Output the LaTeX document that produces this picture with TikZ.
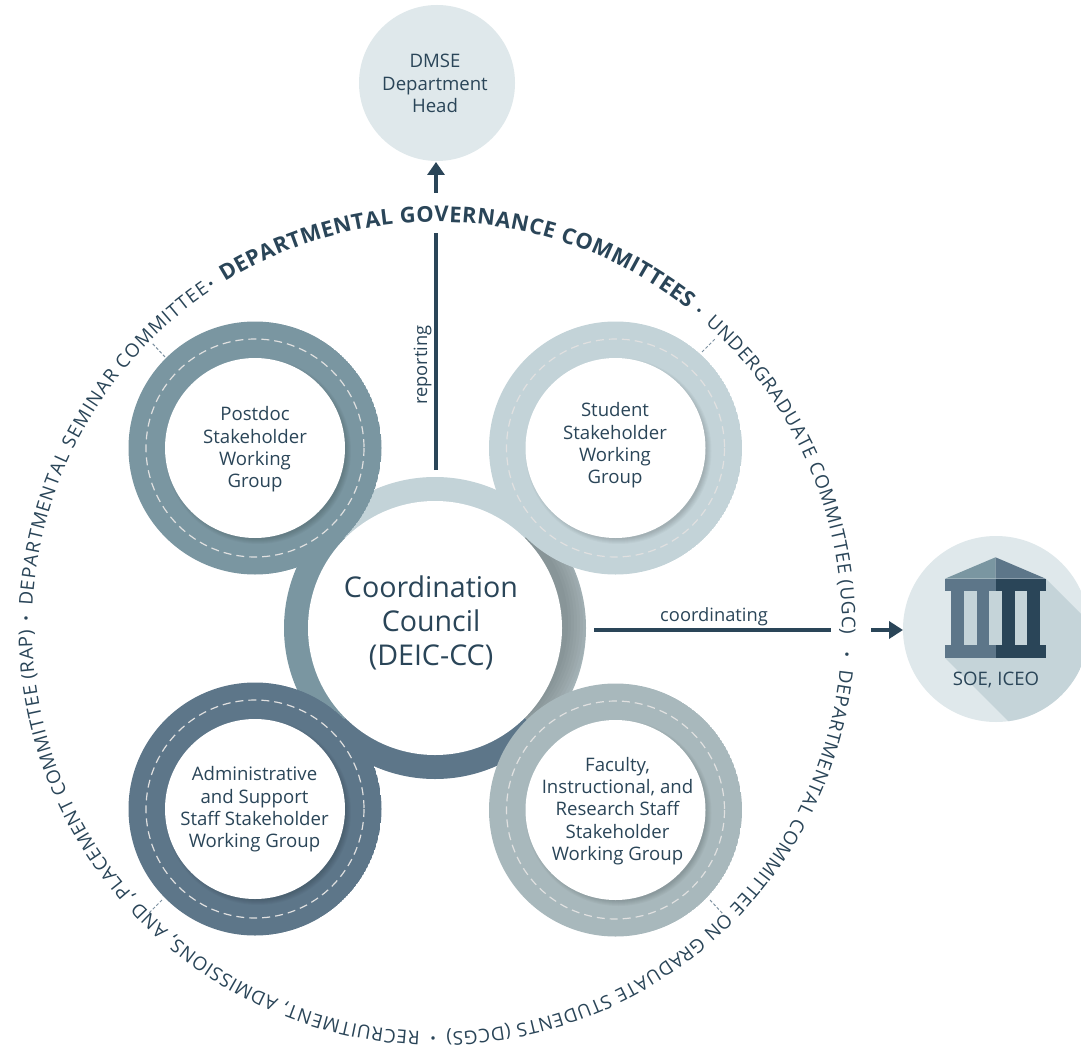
\documentclass[tikz,border=0pt]{standalone}
\usepackage{fontspec}
\setmainfont{Open Sans}
\usetikzlibrary{arrows.meta,decorations.text,calc}
\definecolor{cP}{HTML}{7A96A1}
\definecolor{cS}{HTML}{C3D3D8}
\definecolor{cF}{HTML}{A8B8BC}
\definecolor{cA}{HTML}{5D7689}
\definecolor{cLight}{HTML}{DFE8EB}
\definecolor{cShade}{HTML}{C5D4D9}
\definecolor{cInk}{HTML}{2A4558}
\tikzset{
  wgwhite/.style={circle,fill=white,inner sep=0pt,minimum size=180pt},
  wgtext/.style={text=cInk,align=center,font=\fontsize{18.6}{22.4}\selectfont,inner sep=0pt},
  bigtext/.style={text=cInk,align=center,font=\fontsize{28.6}{34}\selectfont,inner sep=0pt},
  lbl/.style={text=cInk,font=\fontsize{18.3}{20}\selectfont,inner sep=0pt},
  conn/.style={draw=cInk,line width=4.4pt},
  tick/.style={draw=cA!80,line width=1pt,dash pattern=on 3pt off 2pt},
  ringdash/.style={draw=white!88!black,line width=1.2pt,dash pattern=on 8pt off 5pt},
  ringtext/.style={decorate,decoration={text along path,text align=fit to path,text={#1},
     text color=cInk}},
  rdot/.style={text=cInk,font=\fontsize{20}{20}\bfseries\selectfont,inner sep=0pt},
}
\newcommand{\wgring}[4]{% name, x, y, colour
  \begin{scope}
    \clip (#2,#3) circle[radius=126.5];
    \fill[#4] (#2,#3) circle[radius=126.5];
    \foreach \r in {88,89,90,91,92,93}{
      \fill[black,opacity=.028] ($(#2,#3)+(3,3)$) circle[radius=\r];
    }
  \end{scope}
  \draw[ringdash] (#2,#3) circle[radius=109];
  \node[wgwhite] (#1) at (#2,#3) {};
}
\begin{document}
\begin{tikzpicture}[x=1pt,y=-1pt]
\useasboundingbox (0,0) rectangle (1081,1059);
\fill[white] (0,0) rectangle (1081,1059);

% top circle
\node[circle,fill=cLight,inner sep=0pt,minimum size=156pt] (dmse) at (437,83) {};
\node[wgtext] (dmsetext) at (435,83.5) {DMSE\\Department\\Head};

% right circle with the building
\begin{scope}
  \clip (0,0) rectangle (1081,1059);
  \node[circle,fill=cLight,inner sep=0pt,minimum size=186pt] (soe) at (996,629) {};
  \begin{scope}
    \clip (996,629) circle[radius=93];
    \fill[cShade] (1045.7,578.7) -- (1245.7,778.7) -- (1065,778) -- (945,658) -- cycle;
  \end{scope}
  % building
  \fill[cP] (995.5,557.3) -- (945,578.7) -- (995.5,578.7) -- cycle;
  \fill[cA] (995.5,557.3) -- (1045.7,578.7) -- (995.5,578.7) -- cycle;
  \fill[cA] (945,578.7) rectangle (996,591);
  \fill[cInk] (996,578.7) rectangle (1045.7,591);
  \fill[cA] (945,645.3) rectangle (996,658);
  \fill[cInk] (996,645.3) rectangle (1045.7,658);
  \fill[cA] (950.7,591) rectangle (964,645.3);
  \fill[cA] (976.7,591) rectangle (989,645.3);
  \fill[cInk] (1001.7,591) rectangle (1015,645.3);
  \fill[cInk] (1027,591) rectangle (1040,645.3);
  \fill[cShade] (964,591) rectangle (976.7,645.3);
  \fill[cShade] (989,591) rectangle (1001.7,645.3);
  \fill[cShade] (1015,591) rectangle (1027,645.3);
  \node[wgtext] (soetext) at (996,680) {SOE, ICEO};
\end{scope}

% central ring: four coloured quarters
\begin{scope}
  \clip (435,628) circle[radius=151];
  \fill[cS] (435,628) -- (135,328) -- (735,328) -- cycle;
  \fill[cP] (435,628) -- (135,328) -- (135,928) -- cycle;
  \fill[cA] (435,628) -- (135,928) -- (735,928) -- cycle;
  \fill[cF] (435,628) -- (735,328) -- (735,928) -- cycle;
  \begin{scope}
    \clip (435,628) -- (735,328) -- (735,928) -- cycle;
    \foreach \r in {128,131,134,137,140,143,146,149}{
      \fill[black,opacity=.022] (440,623) circle[radius=\r];
    }
  \end{scope}
\end{scope}

% working-group rings
\wgring{postdoc}{255}{448}{cP}
\wgring{admin}{255}{809}{cA}
\wgring{faculty}{615.5}{810}{cF}
\wgring{student}{615.5}{448}{cS}

\node[circle,fill=white,inner sep=0pt,minimum size=254pt] (cc) at (435,628) {};
\node[bigtext] (cctext) at (431,623) {Coordination\\Council\\(DEIC-CC)};

\node[wgtext] (postdoctext) at (255,449.5) {Postdoc\\Stakeholder\\Working\\Group};
\node[wgtext] (studenttext) at (615,445.5) {Student\\Stakeholder\\Working\\Group};
\node[wgtext] (admintext) at (254.5,809.5) {Administrative\\and Support\\Staff Stakeholder\\Working Group};
\node[wgtext] (facultytext) at (617.5,811) {Faculty,\\Instructional, and\\Research Staff\\Stakeholder\\Working Group};

% connectors
\coordinate (repA) at (436,470);
\coordinate (repB) at (436,233);
\coordinate (repC) at (436,193);
\coordinate (repD) at (436,162);
\coordinate (coA) at (594,630);
\coordinate (coB) at (831,630);
\coordinate (coC) at (871,630);
\coordinate (coD) at (903,630);
\draw[conn] (repA) -- (repB);
\draw[conn,-{Triangle[length=13pt,width=17pt]}] (repC) -- (repD);
\draw[conn,line width=4pt] (coA) -- (coB);
\draw[conn,line width=4pt,-{Triangle[length=14pt,width=17pt]}] (coC) -- (coD);
\node[lbl,rotate=90] (replabel) at (422.5,365) {reporting};
\node[lbl] (colabel) at (714,616.5) {coordinating};

% small dashed ticks from the rings to the text
\coordinate (t1a) at (165,357); \coordinate (t1b) at (152,343);
\coordinate (t2a) at (702,352); \coordinate (t2b) at (716,338);
\coordinate (t3a) at (710,900); \coordinate (t3b) at (724,915);
\coordinate (t4a) at (162,900); \coordinate (t4b) at (148,914);
\draw[tick] (t1a) -- (t1b);
\draw[tick] (t2a) -- (t2b);
\draw[tick] (t3a) -- (t3b);
\draw[tick] (t4a) -- (t4b);

% text round the circle
\begin{scope}[shift={(437,627)},y=1pt]
  \path[ringtext={|\fontsize{21.8}{20}\bfseries\selectfont|DEPARTMENTAL GOVERNANCE COMMITTEES}]
     (90+31.6:405) arc[start angle=90+31.6,end angle=90-38.2,radius=405];
  \path[ringtext={|\fontsize{18.8}{18}\selectfont|UNDERGRADUATE COMMITTEE (UGC)}]
     (90-41.5:405) arc[start angle=90-41.5,end angle=90-91,radius=405];
  \path[ringtext={|\fontsize{18.8}{18}\selectfont|DEPARTMENTAL COMMITTEE ON GRADUATE STUDENTS (DCGS)}]
     (90-96:405) arc[start angle=90-96,end angle=90-178.6,radius=405];
  \path[ringtext={|\fontsize{18.8}{18}\selectfont|RECRUITMENT, ADMISSIONS, AND ,PLACEMENT COMMITTEE (RAP)}]
     (90-182.4:405) arc[start angle=90-182.4,end angle=90-269.5,radius=405];
  \path[ringtext={|\fontsize{18.8}{18}\selectfont|DEPARTMENTAL SEMINAR COMMITTEE}]
     (90-273:405) arc[start angle=90-273,end angle=90-325.8,radius=405];
  \node[rdot,rotate=90-40] (d1) at (90-40:411) {·};
  \node[rdot,rotate=90-94.3] (d2) at (90-94.3:411) {·};
  \node[rdot,rotate=90-180.9] (d3) at (90-180.9:411) {·};
  \node[rdot,rotate=90-271.5] (d4) at (90-271.5:411) {·};
  \node[rdot,rotate=90-327] (d5) at (90-327:411) {·};
\end{scope}
\end{tikzpicture}
\end{document}
